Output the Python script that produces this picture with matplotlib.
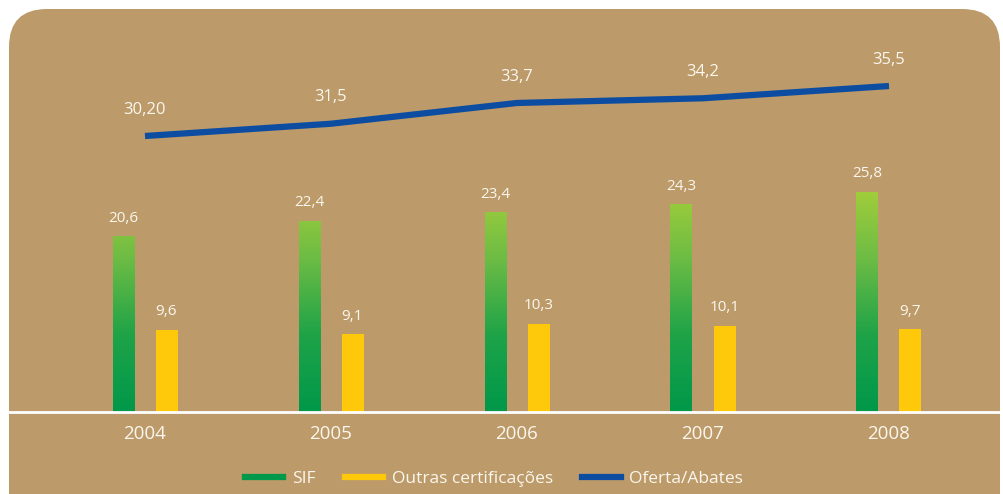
import matplotlib
matplotlib.use("Agg")
import matplotlib.pyplot as plt
from matplotlib.patches import FancyBboxPatch
from matplotlib.lines import Line2D
from matplotlib.colors import LinearSegmentedColormap
import numpy as np

# data
years = ["2004", "2005", "2006", "2007", "2008"]
sif = [20.6, 22.4, 23.4, 24.3, 25.8]
outras = [9.6, 9.1, 10.3, 10.1, 9.7]
oferta = [30.20, 31.5, 33.7, 34.2, 35.5]
oferta_labels = ["30,20", "31,5", "33,7", "34,2", "35,5"]

TAN = "#BC9A69"
GREEN_DARK = "#00984A"
GREEN_LIGHT = "#A9D03A"
YELLOW = "#FFC90B"
BLUE = "#0C4DA2"
TXT = "#FBF7EE"

plt.rcParams["font.family"] = ["Open Sans", "DejaVu Sans"]

W, H = 1004, 494
fig = plt.figure(figsize=(W / 100, H / 100), dpi=100)
fig.patch.set_facecolor("white")

# rounded background panel (pixel space)
bg = fig.add_axes([0, 0, 1, 1])
bg.set_xlim(0, W)
bg.set_ylim(H, 0)
bg.axis("off")
bg.add_patch(FancyBboxPatch((9 + 38, 9 + 38), 991 - 76, 524 - 76,
                            boxstyle="round,pad=38", fc=TAN, ec="none"))

# main axes: baseline at y=412px
base_px = 412
px_per_unit = 8.54
ax = fig.add_axes([0, (H - base_px) / H, 1, base_px / H])
ax.set_facecolor("none")
x = np.arange(len(years))
ax.set_xlim(-145 / 186, (W - 145) / 186)
ax.set_ylim(0, base_px / px_per_unit)

bw = 22 / 186
off = 21.5 / 186
cmap = LinearSegmentedColormap.from_list("g", [GREEN_DARK, "#1FA348", "#6DBC44", GREEN_LIGHT])
grad = np.linspace(0, 1, 256).reshape(-1, 1)
gmax = 27.0
bars = ax.bar(x - off, sif, width=bw, color="none", edgecolor="none")
for b in bars:
    im = ax.imshow(grad, cmap=cmap, origin="lower", aspect="auto",
                   extent=[b.get_x(), b.get_x() + b.get_width(), 0, gmax], zorder=2)
    im.set_clip_path(b)
ax.bar(x + off, outras, width=bw, color=YELLOW, zorder=2)

for xi, v in zip(x, sif):
    ax.annotate(f"{v:.1f}".replace(".", ","), (xi - off, v), xytext=(0, 13),
                textcoords="offset points", ha="center", va="center",
                color=TXT, fontsize=11)
for xi, v in zip(x, outras):
    ax.annotate(f"{v:.1f}".replace(".", ","), (xi + off, v), xytext=(0, 13),
                textcoords="offset points", ha="center", va="center",
                color=TXT, fontsize=11)

ax.set_xticks(x)
ax.set_xticklabels(years, color=TXT, fontsize=13.5)
ax.tick_params(axis="x", length=0, pad=9)
ax.set_yticks([])
for s in ["top", "left", "right"]:
    ax.spines[s].set_visible(False)
ax.spines["bottom"].set_color("white")
ax.spines["bottom"].set_linewidth(2)
ax.spines["bottom"].set_bounds(-136 / 186, (W - 145) / 186)

# line on twin scale
ax2 = ax.twinx()
lp = 50 / 5.3
ax2.set_ylim(30.2 - 276 / lp, 30.2 + (base_px - 276) / lp)
ax2.plot(x, oferta, color=BLUE, lw=4.5, solid_capstyle="butt", zorder=3)
for xi, v, lab in zip(x, oferta, oferta_labels):
    ax2.annotate(lab, (xi, v), xytext=(0, 19), textcoords="offset points",
                 ha="center", va="center", color=TXT, fontsize=12)
ax2.axis("off")

handles = [Line2D([], [], color=GREEN_DARK, lw=4.5),
           Line2D([], [], color=YELLOW, lw=4.5),
           Line2D([], [], color=BLUE, lw=4.5)]
fig.legend(handles, ["SIF", "Outras certificações", "Oferta/Abates"],
           loc="center", bbox_to_anchor=(494 / W, 1 - 479 / H), ncol=3,
           frameon=False, fontsize=12.5, labelcolor=TXT, handlelength=2.2,
           handletextpad=0.5, columnspacing=1.7)

fig.savefig("out.png", dpi=100)
